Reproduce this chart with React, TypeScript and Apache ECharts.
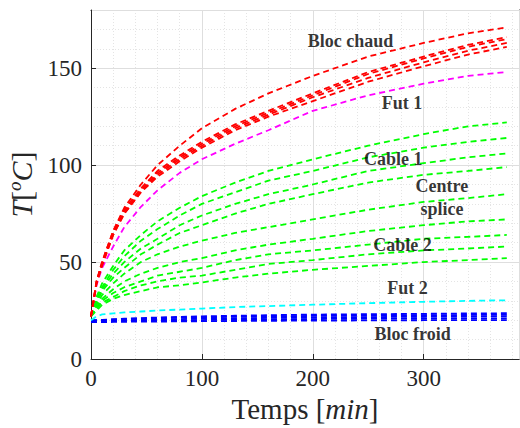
import React, { useEffect, useRef } from "react";
import * as echarts from "echarts";

const FONT = "Liberation Serif, Times New Roman, DejaVu Serif, serif";
const INK = "#262626";

// sample times (min)
const TIME = [0, 5, 10, 20, 30, 45, 60, 80, 100, 130, 160, 200, 250, 300, 340, 375];

// Bloc chaud (hot block) thermocouples
const blocChaud1 = [22, 40, 50, 66, 78, 90, 100, 110, 119, 129, 137, 146, 156, 163, 168, 171];
const blocChaud2 = [22, 40, 50, 66, 77, 88, 97, 105, 112, 121, 128, 137, 148, 156, 162, 166];
const blocChaud3 = [22, 40, 49, 65, 76, 87, 96, 104, 111, 120, 127, 136, 147, 155, 161, 165];
const blocChaud4 = [22, 39, 49, 64, 75, 86, 95, 103, 110, 119, 126, 135, 145, 153, 159, 163];
const blocChaud5 = [22, 39, 48, 64, 75, 86, 94, 102, 109, 118, 125, 133, 143, 151, 157, 161];

// Fut 1
const fut1 = [22, 38, 47, 58, 68, 78.5, 87, 96, 103, 111, 118, 128, 136, 142, 146, 148];

// Cable 1 / centre splice / cable 2
const cable1 = [22, 32, 39, 48, 56, 64, 71, 78, 84, 91, 97, 103, 110, 116, 120, 122];
const cable2 = [22, 31, 37, 46, 53, 61, 67, 74, 80, 86, 92, 97, 104, 109, 112, 114];
const cable3 = [22, 30, 36, 44, 50, 57, 62, 69, 74, 80, 85, 90, 97, 101, 104, 106];
const cable4 = [22, 29, 35, 42, 47, 54, 59, 65, 69, 75, 80, 85, 91, 95, 97, 99];
const cable5 = [22, 28, 33, 39, 44, 50, 54, 58, 61, 65, 68, 72, 77, 81, 83, 85];
const cable6 = [22, 27, 31, 36, 40, 44, 47, 50, 52, 56, 59, 62, 66, 69, 71, 72];
const cable7 = [22, 26, 30, 34, 37, 40, 43, 45, 47, 51, 54, 56, 59, 62, 63, 64];
const cable8 = [22, 26, 29, 32, 35, 38, 40, 42, 43, 46, 49, 51, 54, 56, 57, 58];
const cable9 = [22, 25, 28, 31, 33, 35, 37, 38, 39.5, 42, 44, 46, 48, 50, 51, 52];

// Fut 2
const fut2 = [20, 22, 23, 23.5, 24, 24.5, 25, 25.5, 26, 26.8, 27.3, 28, 28.8, 29.5, 30, 30.3];

// Bloc froid (cold block)
const blocFroid1 = [20, 20, 20.2, 20.5, 20.8, 21.1, 21.4, 21.7, 22, 22.3, 22.6, 22.9, 23.1, 23.3, 23.5, 23.6];
const blocFroid2 = [20, 20, 20.1, 20.3, 20.5, 20.8, 21, 21.3, 21.5, 21.8, 22, 22.2, 22.4, 22.6, 22.7, 22.8];
const blocFroid3 = [19.5, 19.5, 19.6, 19.8, 20, 20.2, 20.4, 20.6, 20.8, 21, 21.2, 21.4, 21.6, 21.8, 21.9, 22];
const blocFroid4 = [19.5, 19.5, 19.5, 19.6, 19.7, 19.8, 19.9, 20, 20.1, 20.3, 20.4, 20.6, 20.8, 20.9, 21, 21];
const blocFroid5 = [19, 19, 19, 19.1, 19.2, 19.3, 19.3, 19.4, 19.5, 19.6, 19.7, 19.8, 19.9, 20, 20, 20];

// axis ranges and tick steps
const X_MAX = 386;
const Y_MAX = 180;
const X_STEP = 100;
const Y_STEP = 50;
const X_MINOR = 20;
const Y_MINOR = 10;

// curve groups and their colours
const GROUPS: { color: string; lines: number[][] }[] = [
  { color: "#0000ff", lines: [blocFroid1, blocFroid2, blocFroid3, blocFroid4, blocFroid5] },
  { color: "#00ffff", lines: [fut2] },
  { color: "#00ff00", lines: [cable1, cable2, cable3, cable4, cable5, cable6, cable7, cable8, cable9] },
  { color: "#ff00ff", lines: [fut1] },
  { color: "#ff0000", lines: [blocChaud1, blocChaud2, blocChaud3, blocChaud4, blocChaud5] },
];

// annotation texts
const NOTE_TEXT = ["Bloc chaud", "Fut 1", "Cable 1", "Centre", "splice", "Cable 2", "Fut 2", "Bloc froid"];
// annotation anchors in data units [min, °C]
const NOTE_AT: [number, number][] = [
  [234, 164],
  [280.5, 132],
  [272.5, 103],
  [316.5, 89],
  [316.5, 77.5],
  [281, 58.8],
  [285.5, 36.6],
  [290, 12.9],
];

export default function App() {
  const ref = useRef<HTMLDivElement>(null);

  useEffect(() => {
    if (!ref.current) return;
    const chart = echarts.init(ref.current, undefined, { renderer: "svg" });

    const lineSeries: any[] = [];
    GROUPS.forEach((g) => {
      g.lines.forEach((vals) => {
        lineSeries.push({
          type: "line",
          xAxisIndex: 0,
          yAxisIndex: 0,
          data: TIME.map((t, i) => [t, vals[i]]),
          showSymbol: false,
          smooth: false,
          silent: true,
          lineStyle: { color: g.color, width: 1.8, type: [6, 4] },
          z: 3,
        });
      });
    });

    const noteSeries = {
      type: "scatter",
      xAxisIndex: 0,
      yAxisIndex: 0,
      symbolSize: 0,
      silent: true,
      z: 5,
      data: NOTE_TEXT.map((name, i) => ({ name, value: NOTE_AT[i] })),
      label: {
        show: true,
        position: "inside",
        formatter: "{b}",
        fontFamily: FONT,
        fontWeight: "bold",
        fontSize: 18,
        color: "#000",
      },
    };

    const frameLine = { show: true, onZero: false, lineStyle: { color: INK, width: 1 } };
    const inTick = { show: true, inside: true, length: 5, lineStyle: { color: INK } };
    const hidden = { show: false };

    chart.setOption({
      animation: false,
      backgroundColor: "#ffffff",
      textStyle: { fontFamily: FONT },
      grid: {
        left: 91,
        right: 1,
        top: 10,
        bottom: 69,
        containLabel: false,
        outerBoundsMode: "none",
      },
      xAxis: [
        {
          type: "value",
          min: 0,
          max: X_MAX,
          interval: X_STEP,
          position: "bottom",
          axisLine: frameLine,
          axisTick: inTick,
          axisLabel: {
            fontFamily: FONT,
            fontSize: 23,
            color: INK,
            margin: 8,
            showMaxLabel: false,
          },
          splitLine: { show: true, lineStyle: { color: "#dedede", width: 1 } },
          name: "Temps [{it|min}]",
          nameLocation: "middle",
          nameGap: 29,
          nameTextStyle: {
            fontFamily: FONT,
            fontSize: 29,
            color: INK,
            rich: { it: { fontFamily: FONT, fontSize: 29, fontStyle: "italic", color: INK } },
          },
          z: 2,
        },
        {
          type: "value",
          min: 0,
          max: X_MAX,
          interval: X_STEP,
          position: "top",
          axisLine: frameLine,
          axisTick: inTick,
          axisLabel: hidden,
          splitLine: hidden,
        },
        {
          type: "value",
          min: 0,
          max: X_MAX,
          interval: X_MINOR,
          position: "bottom",
          axisLine: hidden,
          axisTick: hidden,
          axisLabel: hidden,
          splitLine: { show: true, lineStyle: { color: "#e4e4e4", width: 1, type: [1, 2] } },
          z: 0,
        },
      ],
      yAxis: [
        {
          type: "value",
          min: 0,
          max: Y_MAX,
          interval: Y_STEP,
          position: "left",
          axisLine: frameLine,
          axisTick: inTick,
          axisLabel: {
            fontFamily: FONT,
            fontSize: 23,
            color: INK,
            margin: 9,
            showMaxLabel: false,
          },
          splitLine: { show: true, lineStyle: { color: "#dedede", width: 1 } },
          name: "{it|T}[{sup|o}{it|C}]",
          nameLocation: "middle",
          nameGap: 51,
          nameRotate: 90,
          nameTextStyle: {
            fontFamily: FONT,
            fontSize: 30,
            color: INK,
            rich: {
              it: { fontFamily: FONT, fontSize: 30, fontStyle: "italic", color: INK },
              sup: { fontFamily: FONT, fontSize: 19, fontStyle: "italic", color: INK, padding: [0, 0, 15, 0] },
            },
          },
          z: 2,
        },
        {
          type: "value",
          min: 0,
          max: Y_MAX,
          interval: Y_STEP,
          position: "right",
          axisLine: frameLine,
          axisTick: inTick,
          axisLabel: hidden,
          splitLine: hidden,
        },
        {
          type: "value",
          min: 0,
          max: Y_MAX,
          interval: Y_MINOR,
          position: "left",
          axisLine: hidden,
          axisTick: hidden,
          axisLabel: hidden,
          splitLine: { show: true, lineStyle: { color: "#e4e4e4", width: 1, type: [1, 2] } },
          z: 0,
        },
      ],
      series: [...lineSeries, noteSeries],
    });

    return () => chart.dispose();
  }, []);

  return (
    <div
      ref={ref}
      style={{ position: "absolute", left: 0, top: 0, width: 520, height: 428 }}
    />
  );
}
